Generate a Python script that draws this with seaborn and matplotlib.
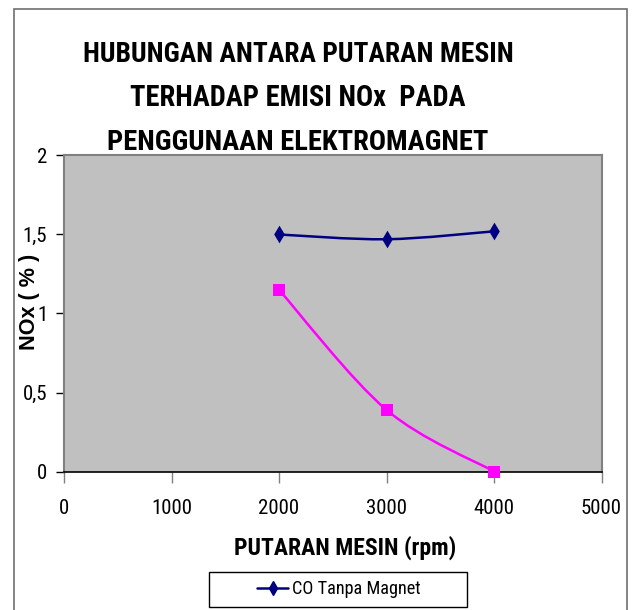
import matplotlib
matplotlib.use("Agg")
import matplotlib.pyplot as plt
from matplotlib.path import Path
from matplotlib.patches import PathPatch, Rectangle
from matplotlib.lines import Line2D
import seaborn as sns
import pandas as pd
import numpy as np

# Engine speed (rpm) and NOx emission (%)
rpm = [2000, 3000, 4000]
nox_tanpa_magnet = [1.50, 1.47, 1.52]
nox_dengan_magnet = [1.15, 0.39, 0.00]

x_ticks = [0, 1000, 2000, 3000, 4000, 5000]
y_ticks = [0, 0.5, 1, 1.5, 2]
y_tick_labels = ["0", "0,5", "1", "1,5", "2"]

title_lines = ["HUBUNGAN ANTARA PUTARAN MESIN",
               "TERHADAP EMISI NOx  PADA",
               "PENGGUNAAN ELEKTROMAGNET"]
x_title = "PUTARAN MESIN (rpm)"
y_title = "NOx ( % )"
legend_label = "CO Tanpa Magnet"

sns.set_theme(style="white")
NARROW = ["Roboto Condensed", "Open Sans Condensed", "Liberation Sans Narrow",
          "Arial Narrow", "Liberation Sans", "DejaVu Sans"]
plt.rcParams["font.family"] = NARROW
plt.rcParams["text.color"] = "black"
plt.rcParams["xtick.color"] = "black"
plt.rcParams["ytick.color"] = "black"

W, H = 634, 610
fig = plt.figure(figsize=(W / 100, H / 100), dpi=100)
fig.patch.set_facecolor("white")


def fx(px):
    return px / W


def fy(py):
    return 1 - py / H


renderer = fig.canvas.get_renderer()


def fit_width(txt, width_px):
    """Scale a text's font size so that its drawn width is width_px."""
    bb = txt.get_window_extent(renderer)
    w = bb.height if txt.get_rotation() in (90, 270) else bb.width
    txt.set_fontsize(txt.get_fontsize() * width_px / w)
    return txt


ax = fig.add_axes([fx(64), fy(471.5), fx(601.5) - fx(64), fy(155.5) - fy(471.5)])
ax.set_facecolor("#C0C0C0")

df = pd.DataFrame({"rpm": rpm + rpm,
                   "nox": nox_tanpa_magnet + nox_dengan_magnet,
                   "seri": ["tanpa"] * 3 + ["dengan"] * 3})


def smooth_path(xs, ys):
    """Cubic Bezier path through the points (Catmull-Rom style control points)."""
    pts = np.column_stack([xs, ys]).astype(float)
    n = len(pts)
    verts = [pts[0]]
    codes = [Path.MOVETO]
    for i in range(n - 1):
        p0 = pts[i - 1] if i > 0 else pts[i]
        p1 = pts[i]
        p2 = pts[i + 1]
        p3 = pts[i + 2] if i + 2 < n else pts[i + 1]
        c1 = p1 + (p2 - p0) / 6.0
        c2 = p2 - (p3 - p1) / 6.0
        verts += [c1, c2, p2]
        codes += [Path.CURVE4] * 3
    return Path(verts, codes)


series_style = {
    "tanpa": dict(color="#000080", marker="d", ms=9),
    "dengan": dict(color="#FF00FF", marker="s", ms=8),
}

for key, sub in df.groupby("seri", sort=False):
    st = series_style[key]
    ax.add_patch(PathPatch(smooth_path(sub["rpm"], sub["nox"]), facecolor="none",
                           edgecolor=st["color"], lw=1.8, zorder=3, clip_on=False))
    sns.scatterplot(data=sub, x="rpm", y="nox", ax=ax, marker=st["marker"],
                    s=st["ms"] ** 2, color=st["color"], edgecolor=st["color"],
                    linewidth=0, zorder=4, clip_on=False, legend=False)

ax.set_xlim(0, 5000)
ax.set_ylim(0, 2)
ax.set_xticks(x_ticks)
ax.set_xticklabels([str(v) for v in x_ticks])
ax.set_yticks(y_ticks)
ax.set_yticklabels(y_tick_labels)
ax.tick_params(axis="x", direction="out", length=8, width=1, color="#808080",
               labelsize=15, pad=12, bottom=True)
ax.tick_params(axis="y", direction="out", length=6, width=1, color="black",
               labelsize=15, pad=6, left=True)

for side in ["top", "right", "left"]:
    ax.spines[side].set_color("#808080")
    ax.spines[side].set_linewidth(1.5)
ax.spines["bottom"].set_color("black")
ax.spines["bottom"].set_linewidth(1.2)
ax.set_xlabel("")
ax.set_ylabel("")

# Axis titles
fit_width(fig.text(fx(345), fy(548), x_title, ha="center", va="center",
                   fontsize=14, fontweight="bold"), 222)
fit_width(fig.text(fx(30), fy(302), y_title, ha="center", va="center", rotation=90,
                   fontsize=12, fontweight="bold",
                   family=["Liberation Sans", "DejaVu Sans"]), 96)

# Chart title
title_widths = [430, 335, 380]
for i, (line, wpx) in enumerate(zip(title_lines, title_widths)):
    fit_width(fig.text(fx(298), fy(55 + 43.5 * i), line, ha="center", va="center",
                       fontsize=22, fontweight="bold"), wpx)

# Legend: centred entry inside a wider box
handle = Line2D([], [], color="#000080", marker="d", ms=7, lw=1.8)
leg = fig.legend([handle], [legend_label], loc="center",
                 bbox_to_anchor=(fx(339), fy(589.5)), frameon=False, fontsize=14,
                 handlelength=1.6, handletextpad=0.2, borderpad=0.2)
fit_width(leg.get_texts()[0], 130)
fig.patches.append(Rectangle((fx(209), fy(607)), fx(467) - fx(209), fy(572) - fy(607),
                             transform=fig.transFigure, fill=False,
                             edgecolor="black", lw=1.0, zorder=1))

# Chart frame
fig.patches.append(Rectangle((fx(14), fy(640)), fx(627) - fx(14), fy(9) - fy(640),
                             transform=fig.transFigure, fill=False,
                             edgecolor="#707070", lw=1.2, zorder=0))

fig.savefig("out.png", dpi=100)
